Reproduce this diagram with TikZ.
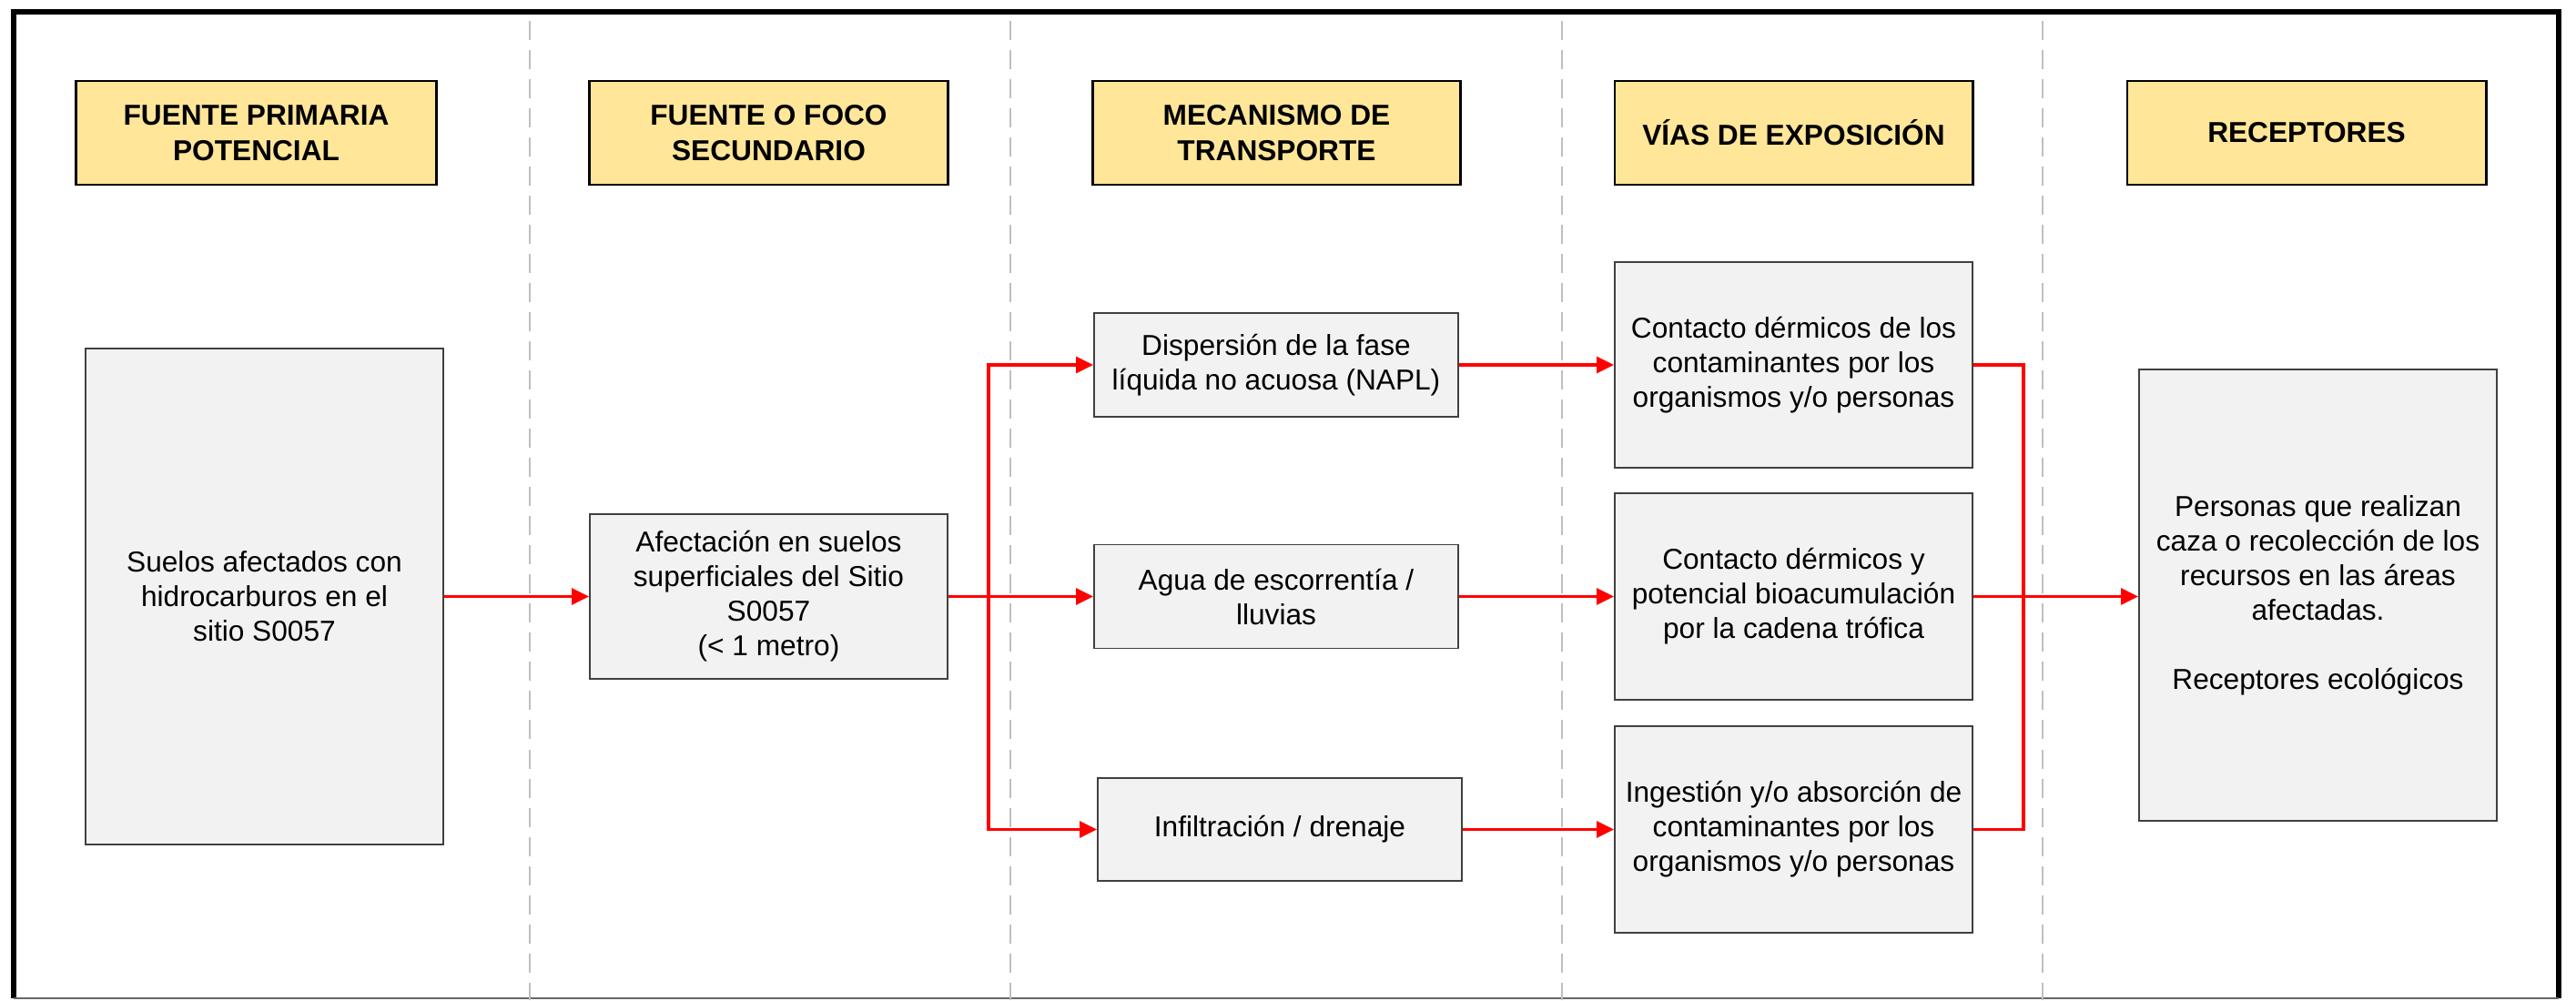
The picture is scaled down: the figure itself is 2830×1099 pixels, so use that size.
\documentclass[tikz,border=0pt]{standalone}
\usepackage{fontspec}
\setmainfont{Liberation Sans}
\usetikzlibrary{arrows.meta}
\definecolor{hdrfill}{HTML}{FFE699}
\definecolor{boxfill}{HTML}{F2F2F2}
\definecolor{sepgray}{HTML}{BFBFBF}
\begin{document}
\begin{tikzpicture}[x=0.01cm,y=-0.01cm,
 hdr/.style={draw=black, line width=0.8pt, fill=hdrfill, font=\fontsize{9pt}{11pt}\selectfont\bfseries, align=center, inner sep=0pt},
 bx/.style={draw=black!75, line width=0.5pt, fill=boxfill, font=\fontsize{9pt}{10.8pt}\selectfont, align=center, inner sep=0pt},
 arr/.style={draw=red, line width=0.9pt, -{Triangle[length=0.19cm,width=0.18cm]}},
 lnk/.style={draw=red, line width=0.9pt},
 sepline/.style={draw=sepgray, line width=0.6pt, dash pattern=on 0.21cm off 0.11cm}]
\useasboundingbox (0,0) rectangle (2830,1099);
% frame
\coordinate (f1) at (15,1097);
\coordinate (f2) at (15,13);
\coordinate (f3) at (2811,13);
\coordinate (f4) at (2811,1097);
\draw[line width=1.6pt, line join=miter] (f1) -- (f2) -- (f3) -- (f4);
\draw[black!60, line width=0.45pt] (f1) -- (f4);
% separators
\foreach \xx/\nm in {582/s1,1110/s2,1716/s3,2244/s4}{
  \coordinate (\nm t) at (\xx,23);
  \coordinate (\nm b) at (\xx,1099);
  \draw[sepline] (\nm t) -- (\nm b);
}
% headers
\node[hdr, minimum width=3.95cm, minimum height=1.14cm] (h1) at (281.5,146) {FUENTE PRIMARIA\\POTENCIAL};
\node[hdr, minimum width=3.93cm, minimum height=1.14cm] (h2) at (844.5,146) {FUENTE O FOCO\\SECUNDARIO};
\node[hdr, minimum width=4.03cm, minimum height=1.14cm] (h3) at (1402.5,146) {MECANISMO DE\\TRANSPORTE};
\node[hdr, minimum width=3.93cm, minimum height=1.14cm] (h4) at (1970.5,146) {VÍAS DE EXPOSICIÓN};
\node[hdr, minimum width=3.94cm, minimum height=1.14cm] (h5) at (2534,146) {RECEPTORES};
% boxes
\node[bx, minimum width=3.93cm, minimum height=5.45cm] (A) at (290.5,655.5) {Suelos afectados con\\hidrocarburos en el\\sitio S0057};
\node[bx, minimum width=3.93cm, minimum height=1.81cm] (B) at (844.5,655.5) {Afectación en suelos\\superficiales del Sitio\\S0057\\(< 1 metro)};
\node[bx, minimum width=4.00cm, minimum height=1.14cm] (C1) at (1402,401) {Dispersión de la fase\\líquida no acuosa (NAPL)};
\node[bx, minimum width=4.00cm, minimum height=1.14cm] (C2) at (1402,655.5) {Agua de escorrentía /\\lluvias};
\node[bx, minimum width=4.00cm, minimum height=1.13cm] (C3) at (1406,911.5) {Infiltración / drenaje};
\node[bx, minimum width=3.93cm, minimum height=2.26cm] (D1) at (1970.5,401) {Contacto dérmicos de los\\contaminantes por los\\organismos y/o personas};
\node[bx, minimum width=3.93cm, minimum height=2.27cm] (D2) at (1970.5,655.5) {Contacto dérmicos y\\potencial bioacumulación\\por la cadena trófica};
\node[bx, minimum width=3.93cm, minimum height=2.27cm] (D3) at (1970.5,911.5) {Ingestión y/o absorción de\\contaminantes por los\\organismos y/o personas};
\node[bx, minimum width=3.93cm, minimum height=4.95cm] (E) at (2546.5,654) {Personas que realizan\\caza o recolección de los\\recursos en las áreas\\afectadas.\\[10.8pt]Receptores ecológicos};
% connectors
\coordinate (bj) at (1086,655.5);
\coordinate (mj) at (2223,655.5);
\draw[arr] (A) -- (B);
\draw[lnk] (B.east) -- (bj);
\draw[arr] (bj) |- (C1.west);
\draw[arr] (bj) -- (C2.west);
\draw[arr] (bj) |- (C3.west);
\draw[arr] (C1) -- (D1);
\draw[arr] (C2) -- (D2);
\draw[arr] (C3) -- (D3);
\draw[lnk] (D1.east) -| (mj);
\draw[lnk] (D3.east) -| (mj);
\draw[lnk] (D2.east) -- (mj);
\draw[arr] (mj) -- (mj -| E.west);
\end{tikzpicture}
\end{document}
